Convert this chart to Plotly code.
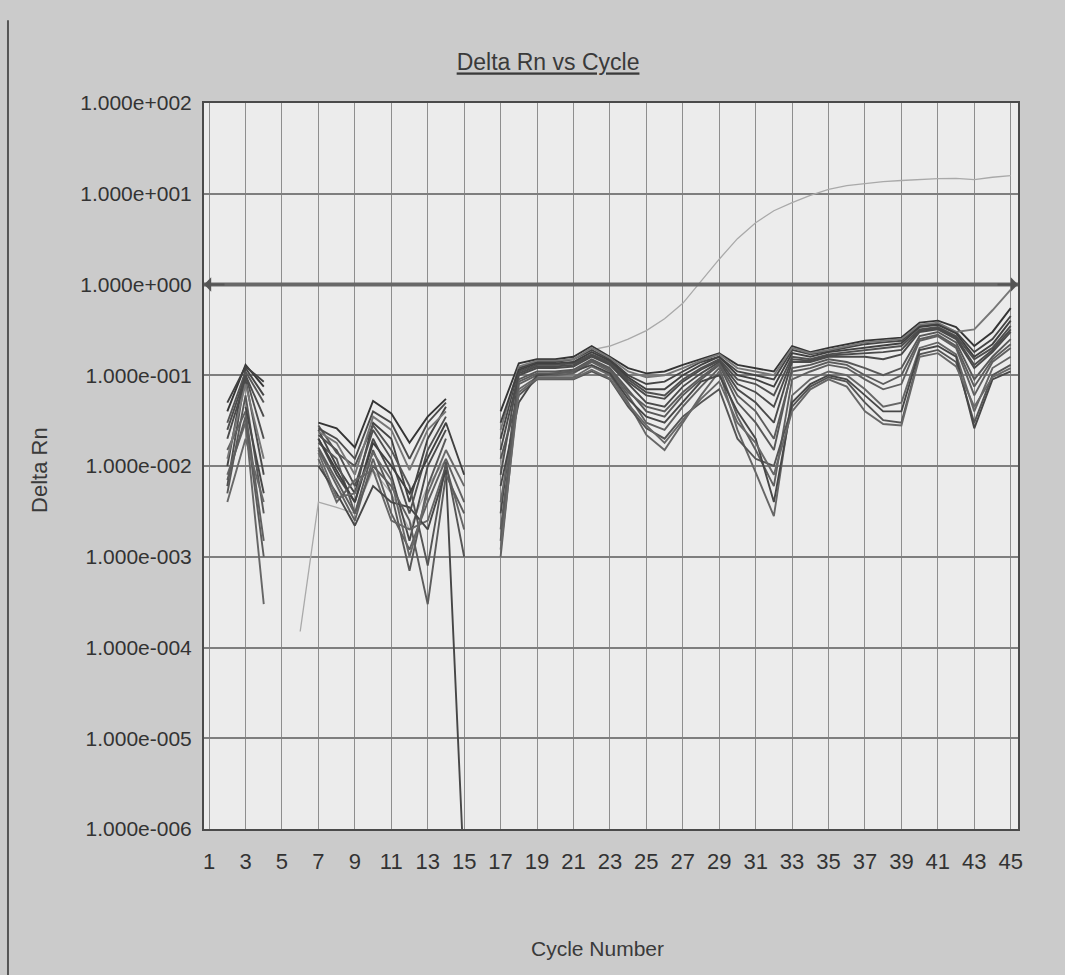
import math
import plotly.graph_objects as go

N = None
cycles = list(range(1, 46))

# Delta Rn per well (None = non-positive value, not drawn on log axis)
well_01 = [N, 0.040, 0.130, 0.075, N, N, 0.030, 0.026, 0.016, 0.052, 0.038, 0.018, 0.035, 0.055, N, N,
           0.040, 0.135, 0.150, 0.150, 0.160, 0.210, 0.160, 0.120, 0.105, 0.110, 0.130, 0.150, 0.175, 0.130,
           0.120, 0.110, 0.210, 0.180, 0.200, 0.220, 0.240, 0.250, 0.260, 0.380, 0.400, 0.340, 0.210, 0.300, 0.550]
well_02 = [N, 0.010, 0.120, 0.060, N, N, 0.025, 0.010, 0.005, 0.030, 0.020, 0.004, 0.020, 0.045, N, N,
           0.020, 0.120, 0.140, 0.140, 0.150, 0.190, 0.150, 0.100, 0.080, 0.085, 0.110, 0.140, 0.160, 0.110,
           0.100, 0.090, 0.190, 0.170, 0.185, 0.200, 0.220, 0.230, 0.240, 0.350, 0.370, 0.300, 0.180, 0.250, 0.450]
well_03 = [N, 0.006, 0.100, 0.020, N, N, 0.022, 0.015, 0.006, 0.025, 0.012, 0.003, 0.015, 0.035, N, N,
           0.008, 0.110, 0.130, 0.130, 0.135, 0.170, 0.140, 0.090, 0.065, 0.060, 0.090, 0.120, 0.150, 0.090,
           0.080, 0.060, 0.160, 0.150, 0.170, 0.180, 0.190, 0.200, 0.210, 0.320, 0.340, 0.270, 0.150, 0.200, 0.350]
well_04 = [N, 0.020, 0.090, 0.008, N, N, 0.020, 0.008, 0.004, 0.020, 0.008, 0.0015, 0.010, 0.025, N, N,
           0.003, 0.100, 0.120, 0.120, 0.125, 0.160, 0.130, 0.080, 0.050, 0.045, 0.075, 0.105, 0.140, 0.070,
           0.050, 0.030, 0.140, 0.140, 0.160, 0.160, 0.160, 0.150, 0.170, 0.300, 0.320, 0.250, 0.120, 0.180, 0.300]
well_05 = [N, 0.005, 0.060, 0.003, N, N, 0.018, 0.012, 0.003, 0.015, 0.005, 0.0007, 0.006, 0.020, N, N,
           0.0015, 0.090, 0.110, 0.110, 0.115, 0.150, 0.120, 0.070, 0.040, 0.035, 0.060, 0.090, 0.130, 0.050,
           0.030, 0.015, 0.120, 0.130, 0.150, 0.140, 0.120, 0.100, 0.120, 0.270, 0.300, 0.230, 0.090, 0.160, 0.250]
well_06 = [N, 0.015, 0.040, 0.0015, N, N, 0.015, 0.006, 0.0025, 0.012, 0.003, 0.0012, 0.004, 0.012, 0.004, N,
           0.001, 0.080, 0.100, 0.100, 0.105, 0.140, 0.110, 0.060, 0.030, 0.025, 0.045, 0.075, 0.120, 0.035,
           0.015, 0.006, 0.090, 0.110, 0.130, 0.120, 0.090, 0.070, 0.080, 0.240, 0.270, 0.200, 0.060, 0.140, 0.200]
well_07 = [N, 0.008, 0.030, 0.0003, N, N, 0.012, 0.004, 0.007, 0.009, 0.0025, 0.002, 0.0025, 0.010, 0.002, N,
           0.004, 0.070, 0.095, 0.095, 0.095, 0.125, 0.100, 0.050, 0.022, 0.015, 0.030, 0.060, 0.110, 0.025,
           0.0085, 0.0028, 0.060, 0.090, 0.110, 0.100, 0.070, 0.045, 0.050, 0.200, 0.230, 0.170, 0.040, 0.120, 0.160]
well_08 = [N, 0.030, 0.110, 0.050, N, N, 0.028, 0.014, 0.010, 0.028, 0.015, 0.006, 0.0008, 0.011, 0.001, N,
           0.012, 0.060, 0.090, 0.090, 0.090, 0.110, 0.090, 0.045, 0.026, 0.020, 0.035, 0.050, 0.070, 0.020,
           0.012, 0.010, 0.045, 0.075, 0.095, 0.085, 0.050, 0.032, 0.030, 0.170, 0.190, 0.140, 0.030, 0.100, 0.130]
well_09 = [N, N, 0.045, 0.005, N, N, 0.010, 0.005, 0.0022, 0.006, 0.004, 0.0035, 0.002, 0.009, 3e-7, N,
           0.006, 0.050, 0.100, 0.105, 0.110, 0.130, 0.105, 0.055, 0.035, 0.030, 0.050, 0.085, 0.100, 0.040,
           0.020, 0.004, 0.050, 0.080, 0.100, 0.090, 0.060, 0.040, 0.040, 0.190, 0.210, 0.160, 0.026, 0.090, 0.110]
well_10 = [N, 0.012, 0.080, 0.012, N, N, 0.024, 0.018, 0.008, 0.035, 0.025, 0.009, 0.025, 0.040, N, N,
           0.025, 0.125, 0.145, 0.145, 0.150, 0.200, 0.155, 0.110, 0.095, 0.100, 0.120, 0.145, 0.170, 0.120,
           0.110, 0.100, 0.200, 0.175, 0.190, 0.210, 0.230, 0.240, 0.250, 0.360, 0.380, 0.300, 0.320, 0.520, 0.880]
well_11 = [N, 0.050, 0.125, 0.085, N, N, 0.020, 0.009, 0.004, 0.018, 0.010, 0.005, 0.012, 0.030, 0.008, N,
           0.030, 0.115, 0.135, 0.135, 0.140, 0.180, 0.145, 0.095, 0.070, 0.070, 0.100, 0.130, 0.160, 0.100,
           0.090, 0.075, 0.175, 0.160, 0.180, 0.190, 0.200, 0.210, 0.225, 0.340, 0.360, 0.290, 0.160, 0.220, 0.400]
well_12 = [N, 0.007, 0.035, 0.001, N, N, 0.016, 0.007, 0.003, 0.010, 0.006, 0.0025, 0.0003, 0.008, 0.003, N,
           0.002, 0.085, 0.105, 0.105, 0.110, 0.145, 0.115, 0.065, 0.045, 0.040, 0.065, 0.095, 0.135, 0.060,
           0.040, 0.020, 0.110, 0.120, 0.140, 0.130, 0.100, 0.080, 0.100, 0.250, 0.280, 0.210, 0.075, 0.150, 0.220]
well_13 = [N, 0.004, 0.020, 0.004, N, N, 0.014, 0.0045, 0.005, 0.014, 0.007, 0.001, 0.005, 0.015, 0.006, N,
           0.0012, 0.065, 0.092, 0.092, 0.092, 0.115, 0.092, 0.048, 0.028, 0.018, 0.032, 0.055, 0.085, 0.030,
           0.018, 0.008, 0.040, 0.070, 0.090, 0.075, 0.040, 0.029, 0.028, 0.160, 0.175, 0.125, 0.045, 0.095, 0.120]
well_14 = [N, 0.025, 0.100, 0.035, N, N, 0.026, 0.020, 0.012, 0.040, 0.030, 0.012, 0.030, 0.050, N, N,
           0.015, 0.105, 0.125, 0.125, 0.130, 0.165, 0.135, 0.085, 0.060, 0.055, 0.085, 0.115, 0.145, 0.080,
           0.065, 0.045, 0.150, 0.145, 0.165, 0.170, 0.175, 0.180, 0.190, 0.310, 0.330, 0.260, 0.130, 0.190, 0.320]
# amplifying sample
well_amp = [N, N, N, N, N, 0.00015, 0.004, 0.0035, 0.003, 0.009, 0.005, 0.002, 0.006, 0.012, N, N,
            0.010, 0.100, 0.130, 0.130, 0.140, 0.190, 0.210, 0.250, 0.310, 0.420, 0.620, 1.100, 1.900, 3.200,
            4.800, 6.500, 8.000, 9.600, 11.200, 12.300, 13.000, 13.600, 14.000, 14.400, 14.700, 14.800, 14.300, 15.200, 15.800]

wells = [well_01, well_02, well_03, well_04, well_05, well_06, well_07,
         well_08, well_09, well_10, well_11, well_12, well_13, well_14]
well_colors = ["#353535", "#454545", "#505050", "#4a4a4a", "#585858", "#606060", "#666666",
               "#555555", "#474747", "#777777", "#404040", "#5c5c5c", "#686868", "#4b4b4b"]

threshold = 1.0
x_range = [0.72, 45.4]
y_tick_vals = [1e-6, 1e-5, 1e-4, 1e-3, 1e-2, 1e-1, 1e0, 1e1, 1e2]
y_tick_text = ["1.000e-006", "1.000e-005", "1.000e-004", "1.000e-003", "1.000e-002",
               "1.000e-001", "1.000e+000", "1.000e+001", "1.000e+002"]
x_tick_vals = list(range(1, 46, 2))
x_tick_text = [str(v) for v in x_tick_vals]

FONT = "Liberation Sans, Arial, sans-serif"

fig = go.Figure()

fig.add_trace(go.Scatter(x=cycles, y=well_amp, mode="lines",
                         line=dict(color="#a9a9a9", width=1.3), connectgaps=False,
                         showlegend=False, hoverinfo="skip"))
for vals, col in zip(wells, well_colors):
    fig.add_trace(go.Scatter(x=cycles, y=vals, mode="lines",
                             line=dict(color=col, width=1.9), connectgaps=False,
                             showlegend=False, hoverinfo="skip"))

# threshold line
fig.add_trace(go.Scatter(x=x_range, y=[threshold, threshold], mode="lines",
                         line=dict(color="#686868", width=4), showlegend=False,
                         hoverinfo="skip", cliponaxis=False))
for xa, off in [(x_range[0], 22), (x_range[1], -22)]:
    fig.add_annotation(x=xa, y=math.log10(threshold), xref="x", yref="y", text="",
                       showarrow=True, arrowhead=1, arrowsize=1.2, arrowwidth=2,
                       arrowcolor="#555555", ax=off, ay=0)

fig.add_annotation(text="Delta Rn", xref="paper", yref="paper", x=-0.2015, y=0.4945,
                   xanchor="center", yanchor="middle",
                   showarrow=False, textangle=-90,
                   font=dict(family=FONT, size=22, color="#3a3a3a"))
fig.add_annotation(text="Cycle Number", xref="paper", yref="paper", x=0.483, y=-0.164,
                   xanchor="center", yanchor="middle",
                   showarrow=False, font=dict(family=FONT, size=21, color="#3a3a3a"))

# scanned page border at left
fig.add_shape(type="line", xref="paper", yref="paper", x0=-0.2408, x1=-0.2408,
              y0=1.114, y1=-0.21, line=dict(color="#555555", width=2))

fig.update_layout(
    width=1065, height=975,
    margin=dict(l=204, r=47, t=103, b=146),
    paper_bgcolor="#cbcbcb", plot_bgcolor="#ececec",
    title=dict(text="<u>Delta Rn vs Cycle</u>", x=0.5146, xref="container",
               y=0.936, yref="container", xanchor="center", yanchor="middle",
               font=dict(family=FONT, size=23, color="#3a3a3a")),
)
fig.update_xaxes(range=x_range, tickvals=x_tick_vals, ticktext=x_tick_text,
                 showgrid=True, gridcolor="#8e8e8e", gridwidth=1.3, zeroline=False,
                 showline=True, linecolor="#4a4a4a", linewidth=2, mirror=True,
                 ticks="", ticklabelstandoff=12,
                 tickfont=dict(family=FONT, size=22, color="#333333"))
fig.update_yaxes(type="log", range=[-6, 2], tickvals=y_tick_vals, ticktext=y_tick_text,
                 showgrid=True, gridcolor="#7e7e7e", gridwidth=1.6, zeroline=False,
                 showline=True, linecolor="#4a4a4a", linewidth=2, mirror=True,
                 ticks="", ticklabelstandoff=6,
                 tickfont=dict(family=FONT, size=21, color="#333333"))

fig.write_html("out.html", config={"displayModeBar": False},
               post_script="document.body.style.margin='0';document.body.style.background='#cbcbcb';")
